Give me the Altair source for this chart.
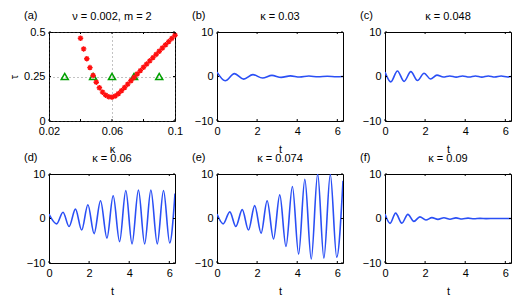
import altair as alt
import pandas as pd

# ---------------- data ----------------
kappa_a = [0.040, 0.042, 0.044, 0.046, 0.048, 0.050, 0.052, 0.054, 0.056, 0.058,
           0.060, 0.062, 0.064, 0.066, 0.068, 0.070, 0.072, 0.074, 0.076, 0.078,
           0.080, 0.082, 0.084, 0.086, 0.088, 0.090, 0.092, 0.094, 0.096, 0.098, 0.100]
tau_a = [0.465, 0.405, 0.350, 0.300, 0.256, 0.218, 0.187, 0.162, 0.145, 0.136,
         0.134, 0.140, 0.153, 0.170, 0.188, 0.207, 0.226, 0.245, 0.264, 0.283,
         0.302, 0.320, 0.338, 0.356, 0.374, 0.392, 0.410, 0.428, 0.446, 0.464, 0.482]
kappa_tri = [0.03, 0.048, 0.06, 0.074, 0.09]
tau_tri = [0.25, 0.25, 0.25, 0.25, 0.25]

t_b = [0, 0.41, 0.87, 1.33, 1.79, 2.27, 2.74, 3.2, 3.66, 4.12, 4.58, 5.04, 5.5, 5.96, 6.2832]
v_b = [1.0, -0.95, 0.65, -0.6, 0.42, -0.35, 0.25, -0.2, 0.15, -0.12, 0.1, -0.07, 0.05, -0.04, 0.0]

t_c = [0, 0.29, 0.62, 0.95, 1.29, 1.62, 1.95, 2.27, 2.59, 2.91, 3.23, 3.55, 3.87, 4.19,
       4.51, 4.83, 5.15, 5.47, 5.79, 6.11, 6.2832]
v_c = [1.0, -1.2, 1.25, -1.1, 1.1, -0.9, 0.72, -0.56, 0.3, -0.12, 0.12, -0.15, 0.12, -0.12,
       0.12, -0.13, 0.12, -0.12, 0.1, -0.1, 0.0]

t_d = [0, 0.38, 0.70, 1.00, 1.32, 1.63, 1.94, 2.25, 2.57, 2.89, 3.20, 3.52, 3.83, 4.14,
       4.46, 4.77, 5.08, 5.40, 5.71, 6.02, 6.2832]
v_d = [1.0, -1.2, 1.4, -1.8, 2.1, -2.6, 3.1, -3.4, 4.0, -4.4, 5.1, -5.2, 6.3, -5.7,
       6.4, -5.7, 6.4, -5.7, 6.3, -5.5, 5.6]

t_e = [0, 0.31, 0.64, 0.94, 1.26, 1.57, 1.88, 2.20, 2.50, 2.82, 3.13, 3.44, 3.76, 4.07,
       4.38, 4.70, 5.02, 5.33, 5.65, 5.97, 6.2832]
v_e = [1.0, -1.2, 1.5, -1.8, 2.0, -2.6, 2.9, -3.3, 4.0, -4.6, 5.3, -6.3, 7.2, -8.0,
       8.8, -9.1, 10.0, -8.9, 9.9, -8.7, 8.5]

t_f = [0, 0.25, 0.53, 0.84, 1.14, 1.44, 1.74, 2.04, 2.34, 2.64, 2.94, 3.24, 3.54, 3.84,
       4.14, 4.44, 4.74, 5.04, 5.5, 6.2832]
v_f = [1.0, -1.1, 1.2, -1.05, 0.92, -0.65, 0.36, -0.35, 0.2, -0.2, 0.18, -0.16, 0.14, -0.12,
       0.08, -0.06, 0.03, -0.02, 0.0, 0.0]

t_ticks = [0, 2, 4, 6]
v_ticks = [-10, 0, 10]
k_ticks = [0.02, 0.04, 0.06, 0.08, 0.1]
tau_ticks = [0, 0.25, 0.5]

W, H = 126, 89
BLUE = "#2a4ff5"
TICK = 2

def text_layers(lab, title):
    lab_l = alt.Chart(pd.DataFrame({"lab": [lab]})).mark_text(
        align="left", baseline="middle", fontSize=11, color="black"
    ).encode(text="lab:N", x=alt.value(-25), y=alt.value(-16))
    tit_l = alt.Chart(pd.DataFrame({"tit": [title]})).mark_text(
        align="center", baseline="middle", fontSize=11, color="black"
    ).encode(text="tit:N", x=alt.value(W / 2), y=alt.value(-15))
    return [lab_l, tit_l]

def tick_layers(xf, xvals, yf, yvals):
    xdf = pd.DataFrame({xf: xvals})
    ydf = pd.DataFrame({yf: yvals})
    layers = []
    for y0, y1 in [(0, TICK), (H - TICK, H)]:
        layers.append(alt.Chart(xdf).mark_rule(color="black", strokeWidth=1).encode(
            x=alt.X(f"{xf}:Q"), y=alt.value(y0), y2=alt.value(y1)))
    for x0, x1 in [(0, TICK), (W - TICK, W)]:
        layers.append(alt.Chart(ydf).mark_rule(color="black", strokeWidth=1).encode(
            y=alt.Y(f"{yf}:Q"), x=alt.value(x0), x2=alt.value(x1)))
    return layers

def wave_panel(t, v, title, lab):
    df = pd.DataFrame({"t": t, "v": v})
    line = alt.Chart(df).mark_line(color=BLUE, strokeWidth=1.6, interpolate="monotone", clip=True).encode(
        x=alt.X("t:Q", scale=alt.Scale(domain=[0, 6.2832], nice=False, zero=False),
                axis=alt.Axis(values=t_ticks, format="d", title="t")),
        y=alt.Y("v:Q", scale=alt.Scale(domain=[-10, 10], nice=False),
                axis=alt.Axis(values=v_ticks, format="d", title=None)),
    )
    return alt.layer(line, *tick_layers("t", t_ticks, "v", v_ticks), *text_layers(lab, title)).properties(
        width=W, height=H)

# panel (a)
df_a = pd.DataFrame({"k": kappa_a, "tau": tau_a})
df_tri = pd.DataFrame({"k": kappa_tri, "tau": tau_tri})
xa = alt.X("k:Q", scale=alt.Scale(domain=[0.02, 0.1], nice=False, zero=False),
           axis=alt.Axis(values=k_ticks, format=".2~f", title="κ", grid=True,
                         gridDash=[1, 3], gridColor="#555", gridWidth=0.7))
ya = alt.Y("tau:Q", scale=alt.Scale(domain=[0, 0.5], nice=False),
           axis=alt.Axis(values=tau_ticks, format=".2~f", title="τ", grid=True,
                         gridDash=[1, 3], gridColor="#555", gridWidth=0.7, titlePadding=4))
tri = alt.Chart(df_tri).mark_point(shape="triangle-up", filled=False, color="#00a000",
                                   strokeWidth=1.5, size=50, opacity=1).encode(x=xa, y=ya)
ast = alt.Chart(df_a).mark_point(
    shape="M-1,0L1,0M0,-1L0,1M-0.7,-0.7L0.7,0.7M-0.7,0.7L0.7,-0.7",
    filled=False, color="#ff1010", strokeWidth=1.4, size=30, opacity=1).encode(x="k:Q", y="tau:Q")
pa = alt.layer(tri, ast, *tick_layers("k", k_ticks, "tau", tau_ticks),
               *text_layers("(a)", "ν = 0.002, m = 2")).properties(width=W, height=H)

pb = wave_panel(t_b, v_b, "κ = 0.03", "(b)")
pc = wave_panel(t_c, v_c, "κ = 0.048", "(c)")
pd_ = wave_panel(t_d, v_d, "κ = 0.06", "(d)")
pe = wave_panel(t_e, v_e, "κ = 0.074", "(e)")
pf = wave_panel(t_f, v_f, "κ = 0.09", "(f)")

chart = alt.concat(pa, pb, pc, pd_, pe, pf, columns=3,
                   spacing={"row": 53, "column": 42}, bounds="flush").properties(
    autosize=alt.AutoSizeParams(type="none"),
    padding={"left": 41, "top": 24, "right": 463, "bottom": 263}
).configure(font="Liberation Sans", background="white").configure_view(
    stroke="black", strokeWidth=1
).configure_axis(
    labelFontSize=11, titleFontSize=11, titleFontWeight="normal", labelColor="black",
    titleColor="black", domain=False, ticks=False, labelPadding=4, titlePadding=7,
    labelFlush=False, labelOverlap=False, grid=False
)

chart.save("out.html", embed_options={"renderer": "svg", "actions": False})
